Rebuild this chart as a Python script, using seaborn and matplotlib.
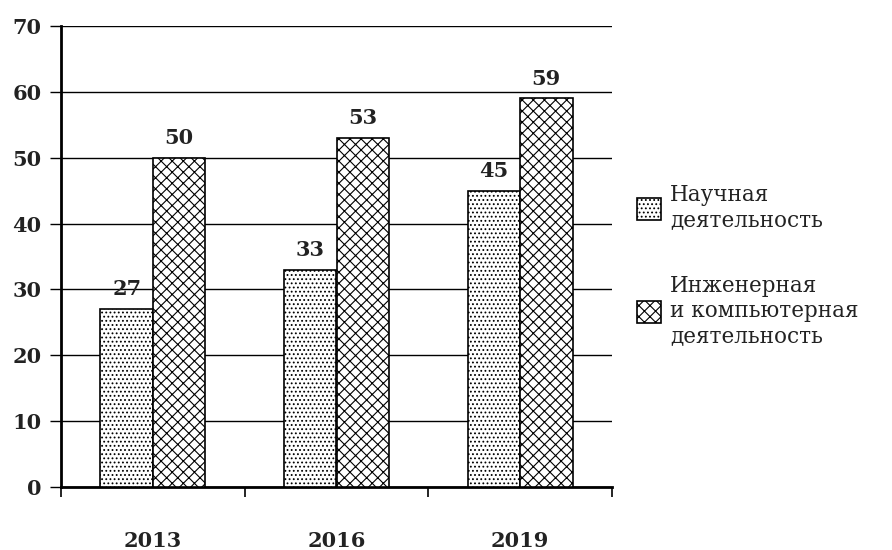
import matplotlib
matplotlib.use("Agg")
import matplotlib.pyplot as plt
import seaborn as sns
import pandas as pd

# data
years = ["2013", "2016", "2019"]
science = [27, 33, 45]
engineering = [50, 53, 59]
series_names = ["Научная\nдеятельность", "Инженерная\nи компьютерная\nдеятельность"]
hatches = ["....", "xxx"]

df = pd.DataFrame({
    "Год": years * 2,
    "Значение": science + engineering,
    "Серия": [series_names[0]] * 3 + [series_names[1]] * 3,
})

sns.set_style("white")
plt.rcParams["font.family"] = ["DejaVu Serif"]
plt.rcParams["hatch.linewidth"] = 0.8
plt.rcParams["hatch.color"] = "#222222"

fig = plt.figure(figsize=(8.92, 5.5), dpi=100)
ax = fig.add_axes([61 / 892, 1 - 487 / 550, (612 - 61) / 892, (487 - 26) / 550])

sns.barplot(data=df, x="Год", y="Значение", hue="Серия", ax=ax,
            width=0.57, edgecolor="black", linewidth=1.2,
            palette=["white", "white"], legend=True, zorder=3)

for cont, h in zip(ax.containers, hatches):
    for bar in cont:
        bar.set_hatch(h)
        bar.set_edgecolor("black")
    ax.bar_label(cont, padding=7, fontsize=15, fontweight="bold", color="#222222")

ax.set_xlim(-0.5, 2.5)
ax.set_ylim(0, 70)
ax.set_yticks(range(0, 71, 10))
ax.yaxis.grid(True, color="black", linewidth=1.0, zorder=0)
ax.set_axisbelow(True)
ax.tick_params(axis="y", left=True, length=8, width=1.0, color="black", labelsize=15, pad=6)
for lbl in ax.get_yticklabels():
    lbl.set_fontweight("bold")
    lbl.set_color("#222222")

ax.set_xticks([0, 1, 2])
ax.set_xticklabels(years, fontsize=15, fontweight="bold", color="#222222")
ax.set_xticks([-0.5, 0.5, 1.5, 2.5], minor=True)
ax.tick_params(axis="x", which="major", bottom=False, length=0, pad=32)
ax.tick_params(axis="x", which="minor", bottom=True, length=7, width=1.2, color="black")
ax.set_xlabel("")
ax.set_ylabel("")

for side in ["top", "right"]:
    ax.spines[side].set_visible(False)
ax.spines["left"].set_linewidth(2)
ax.spines["bottom"].set_linewidth(2)
ax.spines["left"].set_color("black")
ax.spines["bottom"].set_color("black")

handles, labels = ax.get_legend_handles_labels()
for hd, h in zip(handles, hatches):
    hd.set_hatch(h)
    hd.set_edgecolor("black")
ax.legend(handles, labels, loc="center left", bbox_to_anchor=(1.01, 0.48),
          frameon=False, fontsize=15.5, handlelength=1.1, handleheight=1.2,
          labelspacing=2.0, handletextpad=0.45, labelcolor="#222222")

fig.savefig("out.png", dpi=100)
